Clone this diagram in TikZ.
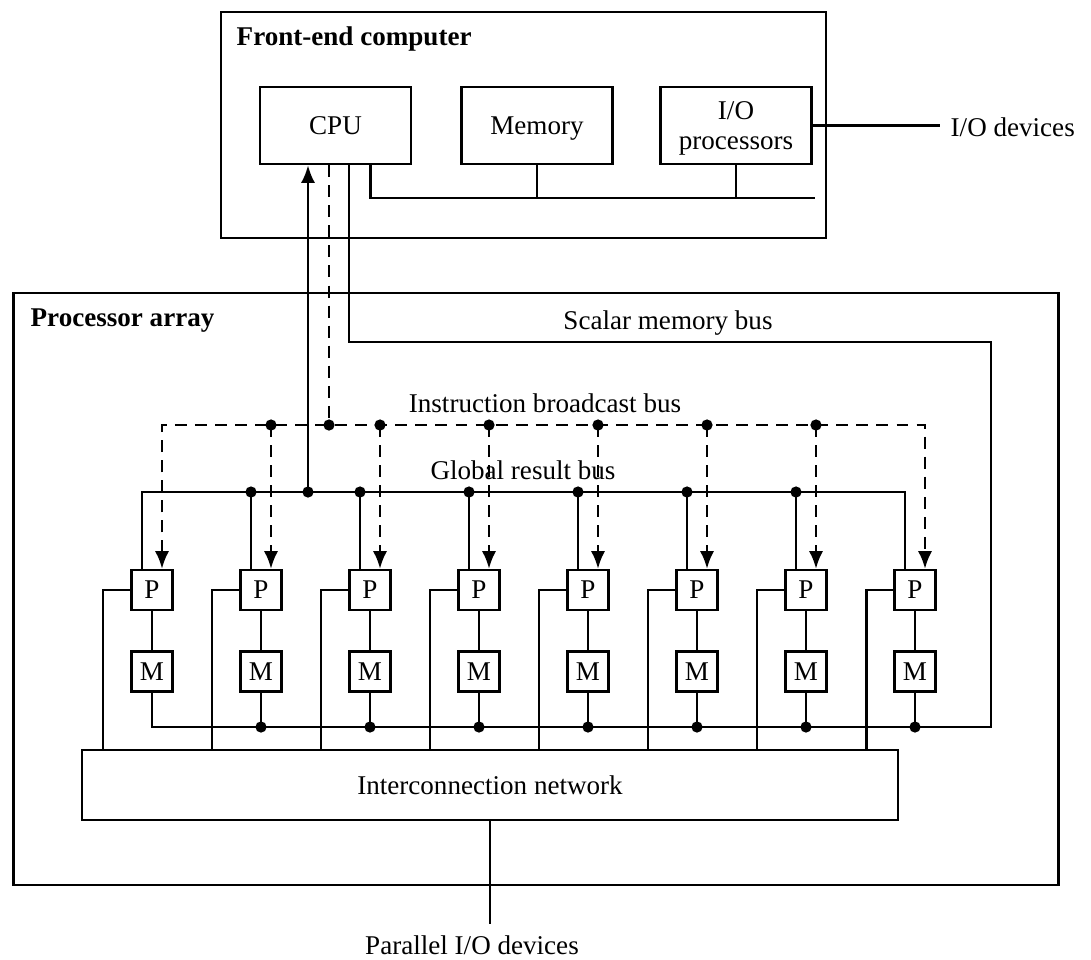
\documentclass[tikz,border=0pt]{standalone}
\usepackage{fontspec}
\setmainfont{Liberation Serif}
\usetikzlibrary{arrows.meta,calc,positioning}
\tikzset{
  box/.style={draw,line width=0.7pt,inner sep=0pt,align=center},
  unitbox/.style={box,minimum width=1.51cm,minimum height=0.77cm,text depth=0pt},
  pebox/.style={box,minimum width=0.41cm,minimum height=0.40cm},
  wire/.style={line width=0.7pt},
  ibus/.style={wire,dash pattern=on 3.4pt off 2.3pt},
  lbl/.style={inner sep=0pt},
  title/.style={lbl,anchor=west,font=\fontsize{7.7}{8.8}\selectfont\bfseries}
}

\begin{document}
\begin{tikzpicture}[>={Latex[length=5pt,width=4pt]},x=0.01cm,y=-0.01cm,font=\fontsize{7.7}{8.8}\selectfont]
  \useasboundingbox (0,0) rectangle (1091,959);
  \node[box,minimum width=6.05cm,minimum height=2.26cm] (fe) at (523.5,125) {};
  \node[box,minimum width=10.44cm,minimum height=5.92cm] (pa) at (536,589) {};
  \node[title] (fetitle) at (236,39) {Front-end computer};
  \node[title] (patitle) at (30,321) {Processor array};
  \node[unitbox] (cpu) at (335.5,125.5) {CPU};
  \node[unitbox] (mem) at (537,125.5) {Memory};
  \node[unitbox] (io) at (736,125.5) {I/O\\processors};
  \node[lbl,anchor=west] (iodev) at (950,127) {I/O devices};
  \node[lbl] (sbl) at (668,323) {Scalar memory bus};
  \node[lbl] (ibl) at (545,403) {Instruction broadcast bus};
  \node[lbl] (gbl) at (523,470) {Global result bus};
  \node[box,minimum width=8.16cm,minimum height=0.70cm] (net) at (490,785) {Interconnection network};
  \node[lbl] (pio) at (472,945) {Parallel I/O devices};
  \coordinate (iodevend) at (940,125.5);
  \coordinate (fbus) at (815,198);
  \coordinate (sTR) at (991,342);
  \coordinate (sBR) at (991,727);
  \coordinate (ibus) at (0,425);
  \coordinate (gbus) at (0,492);
  \coordinate (cpuin) at ($(cpu.south)+(-27.5,0)$);
  \coordinate (cpuout) at ($(cpu.south)+(-6.5,0)$);
  \foreach \i in {1,...,8} {
    \node[pebox] (p\i) at (43+109*\i,590) {P};
    \node[pebox] (m\i) at (43+109*\i,671.5) {M};
    \coordinate (pr\i) at ($(p\i.north)+(-10,0)$);
    \coordinate (pi\i) at ($(p\i.north)+(10,0)$);
    \coordinate (pl\i) at ($(p\i.west)+(-27,0)$);
    \draw[wire] (p\i) -- (m\i);
    \draw[wire] (p\i.west) -- (pl\i) -- (pl\i |- net.north);
  }
  \draw[wire] (io.east) -- (iodevend);
  \draw[wire] ($(cpu.south)+(35,0)$) |- (fbus);
  \draw[wire] (mem.south) -- (mem.south |- fbus);
  \draw[wire] (io.south) -- (io.south |- fbus);
  \draw[wire] ($(cpu.south)+(13.5,0)$) |- (sTR) -- (sBR) -| (m1.south);
  \draw[wire] (pr1) |- (gbus -| pr8) -- (pr8);
  \draw[wire,->] (cpuin |- gbus) -- (cpuin);
  \fill (cpuin |- gbus) circle[radius=1.6pt];
  \draw[ibus,<->] (pi1) |- (ibus -| pi8) -- (pi8);
  \draw[ibus] (cpuout) -- (cpuout |- ibus);
  \fill (cpuout |- ibus) circle[radius=1.6pt];
  \foreach \i in {2,...,7} {
    \draw[wire] (pr\i |- gbus) -- (pr\i);
    \fill (pr\i |- gbus) circle[radius=1.6pt];
    \draw[ibus,->] (pi\i |- ibus) -- (pi\i);
    \fill (pi\i |- ibus) circle[radius=1.6pt];
  }
  \foreach \i in {2,...,8} {
    \draw[wire] (m\i.south) -- (m\i.south |- sBR);
    \fill (m\i.south |- sBR) circle[radius=1.6pt];
  }
  \draw[wire] (net.south) -- ($(net.south |- pio.north)+(0,-11)$);
\end{tikzpicture}
\end{document}
